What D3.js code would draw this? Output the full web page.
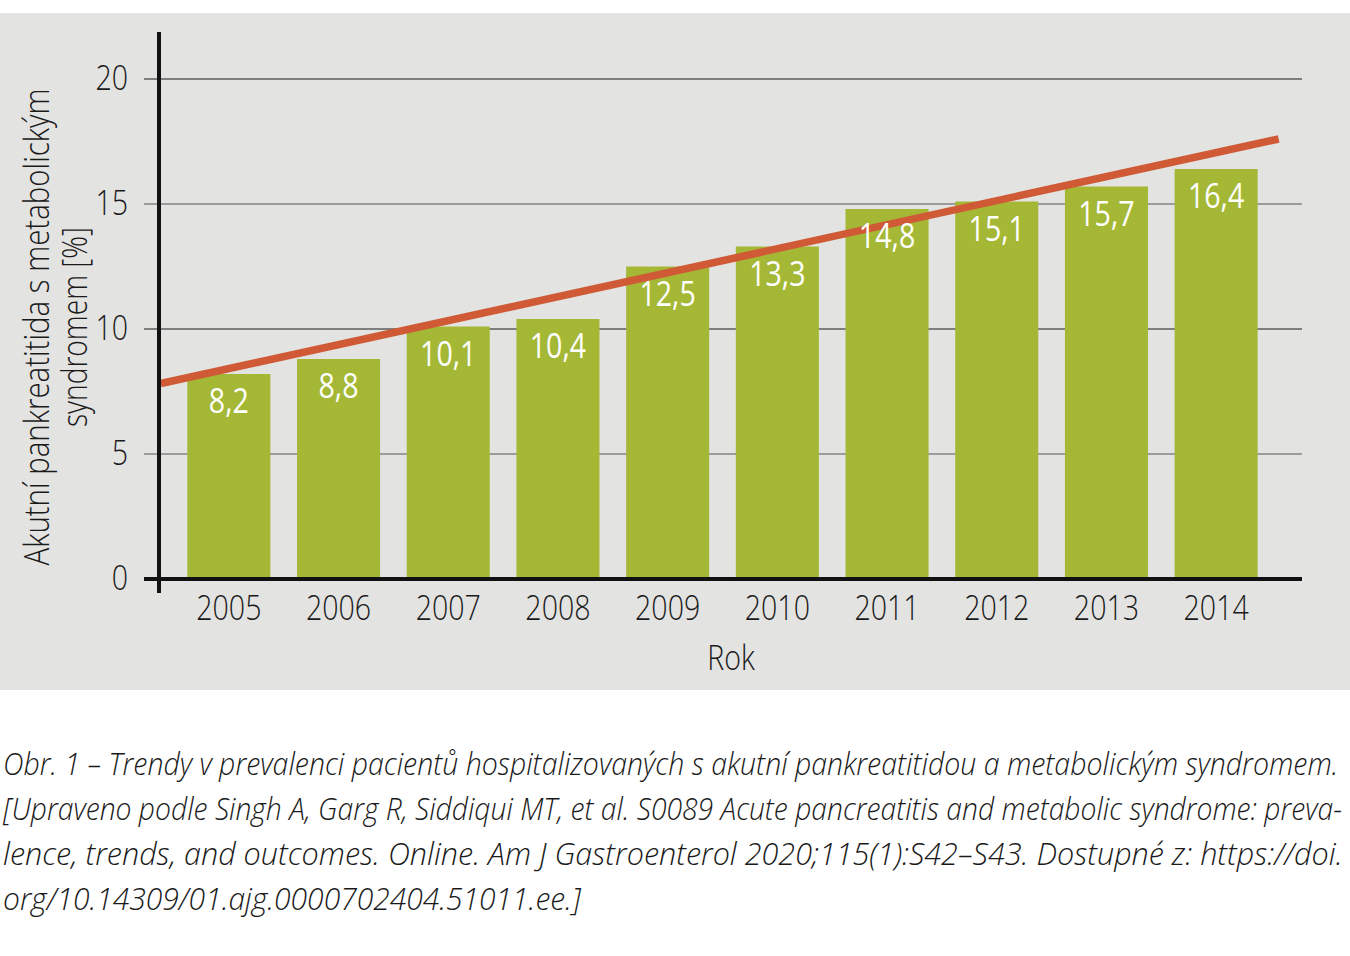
<!DOCTYPE html>
<html>
<head>
<meta charset="utf-8">
<script src="https://cdn.jsdelivr.net/npm/d3@7"></script>
<style>
  body { margin: 0; background: #fff; }
  svg { display: block; }
  text { font-family: "Open Sans", "Noto Sans", sans-serif; font-weight: 300; }
</style>
</head>
<body>
<script>
// Data
const years = ["2005", "2006", "2007", "2008", "2009", "2010", "2011", "2012", "2013", "2014"];
const prevalence = [8.2, 8.8, 10.1, 10.4, 12.5, 13.3, 14.8, 15.1, 15.7, 16.4];
const yTicks = [0, 5, 10, 15, 20];
// trend line end points (year position, value)
const trendYears = [2004.38, 2014.57];
const trendValues = [7.82, 17.6];
const captionLines = [
  "Obr. 1 – Trendy v prevalenci pacientů hospitalizovaných s akutní pankreatitidou a metabolickým syndromem.",
  "[Upraveno podle Singh A, Garg R, Siddiqui MT, et al. S0089 Acute pancreatitis and metabolic syndrome: preva-",
  "lence, trends, and outcomes. Online. Am J Gastroenterol 2020;115(1):S42–S43. Dostupné z: https://doi.",
  "org/10.14309/01.ajg.0000702404.51011.ee.]"
];
const captionWidths = [1336, 1340, 1340, 578];

const w = 1350, h = 956;
const axisX = 159, baseY = 579, plotRight = 1302;

// the original uses a condensed face; squeeze the glyphs to match
function condense(sel, f) {
  sel.each(function() {
    const len = this.getComputedTextLength();
    d3.select(this).attr("textLength", len * f).attr("lengthAdjust", "spacingAndGlyphs");
  });
}

const svg = d3.select("body").append("svg")
  .attr("width", w)
  .attr("height", h);

// grey panel
svg.append("rect")
  .attr("x", 0).attr("y", 13)
  .attr("width", w).attr("height", 677)
  .attr("fill", "#e3e3e2");

const x = d3.scaleBand()
  .domain(years)
  .range([174, 1271])
  .paddingInner(0.243)
  .paddingOuter(0.1215);

const y = d3.scaleLinear()
  .domain([0, 20])
  .range([baseY, 79]);

// year position scale for the trend line (band centres)
const xYear = d3.scaleLinear()
  .domain([2005, 2014])
  .range([x("2005") + x.bandwidth() / 2, x("2014") + x.bandwidth() / 2]);

// gridlines
svg.append("g")
  .selectAll("line")
  .data(yTicks.filter(d => d > 0))
  .join("line")
  .attr("x1", 144).attr("x2", plotRight)
  .attr("y1", d => y(d)).attr("y2", d => y(d))
  .attr("stroke", d => d % 10 === 0 ? "#1a1a1a" : "#858585")
  .attr("stroke-width", d => d % 10 === 0 ? 1.2 : 1.6);

// bars
svg.append("g")
  .selectAll("rect")
  .data(prevalence)
  .join("rect")
  .attr("x", (d, i) => x(years[i]))
  .attr("y", d => y(d))
  .attr("width", x.bandwidth())
  .attr("height", d => baseY - y(d))
  .attr("fill", "#a5b836");

// trend line
const line = d3.line()
  .x(d => xYear(d[0]))
  .y(d => y(d[1]));

svg.append("path")
  .datum(trendYears.map((d, i) => [d, trendValues[i]]))
  .attr("d", line)
  .attr("fill", "none")
  .attr("stroke", "#cf5a35")
  .attr("stroke-width", 7.5);

// value labels
svg.append("g")
  .selectAll("text")
  .data(prevalence)
  .join("text")
  .attr("x", (d, i) => x(years[i]) + x.bandwidth() / 2)
  .attr("y", d => y(d) + 39)
  .attr("text-anchor", "middle")
  .attr("fill", "#fff")
  .style("font-size", "34px")
  .style("font-weight", 400)
  .text(d => String(d).replace(".", ","))
  .call(condense, 0.84);

// y axis labels
const yAxis = svg.append("g")
  .attr("transform", `translate(${axisX},0)`)
  .call(d3.axisLeft(y).tickValues(yTicks).tickSize(0).tickPadding(31));
yAxis.select(".domain").remove();
yAxis.selectAll("text")
  .attr("fill", "#1a1a1a")
  .style("font-size", "34px")
  .call(condense, 0.84);

// x axis labels
const xAxis = svg.append("g")
  .attr("transform", `translate(0,${baseY})`)
  .call(d3.axisBottom(x).tickSize(0).tickPadding(17));
xAxis.select(".domain").remove();
xAxis.selectAll("text")
  .attr("fill", "#1a1a1a")
  .style("font-size", "34px")
  .call(condense, 0.84);

// axis lines
svg.append("line")
  .attr("x1", 144).attr("x2", plotRight)
  .attr("y1", baseY).attr("y2", baseY)
  .attr("stroke", "#111").attr("stroke-width", 4);
svg.append("line")
  .attr("x1", axisX).attr("x2", axisX)
  .attr("y1", 32).attr("y2", 593)
  .attr("stroke", "#111").attr("stroke-width", 4);

// axis titles
svg.append("text")
  .attr("x", 731).attr("y", 670)
  .attr("text-anchor", "middle")
  .attr("fill", "#1a1a1a")
  .style("font-size", "34px")
  .text("Rok")
  .call(condense, 0.84);

const yTitle = svg.append("text")
  .attr("transform", "rotate(-90)")
  .attr("text-anchor", "middle")
  .attr("fill", "#1a1a1a")
  .style("font-size", "34px");
yTitle.append("tspan").attr("x", -327).attr("y", 49)
  .attr("textLength", 477).attr("lengthAdjust", "spacingAndGlyphs")
  .text("Akutní pankreatitida s metabolickým");
yTitle.append("tspan").attr("x", -327).attr("y", 87)
  .attr("textLength", 200).attr("lengthAdjust", "spacingAndGlyphs")
  .text("syndromem [%]");

// caption: squeezed horizontally with a scale so each line fits its width
svg.append("g")
  .selectAll("text")
  .data(captionLines)
  .join("text")
  .attr("fill", "#1a1a1a")
  .style("font-size", "32px")
  .style("font-style", "italic")
  .text(d => d)
  .each(function(d, i) {
    const sx = captionWidths[i] / this.getComputedTextLength();
    d3.select(this).attr("transform", `translate(3,${775 + i * 45}) scale(${sx},1)`);
  });
</script>
</body>
</html>
